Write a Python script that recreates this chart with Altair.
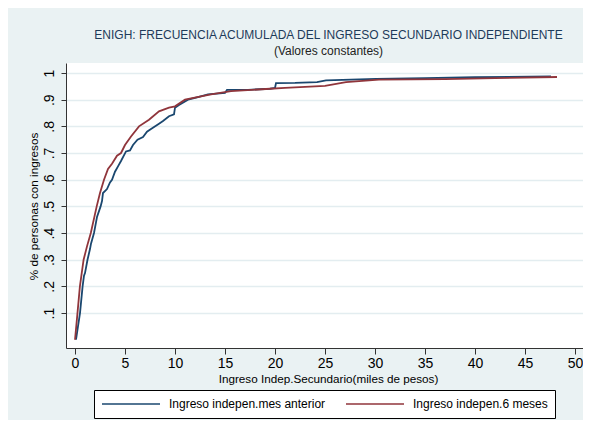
import altair as alt
import pandas as pd

serie_mes = "Ingreso indepen.mes anterior"
serie_6m = "Ingreso indepen.6 meses"

# Blue: ingreso mes anterior (miles de pesos, proporción acumulada)
x_mes = [0.1, 0.3, 0.5, 0.76, 0.9, 1.0, 1.25, 1.5, 1.6, 1.9, 2.1, 2.2, 2.56, 2.7, 2.8,
         3.2, 3.5, 3.7, 4.0, 4.3, 4.6, 5.1, 5.5, 5.8, 6.25, 6.8, 7.2, 7.6, 8.4, 8.8,
         9.4, 9.9, 10.0, 10.4, 11.3, 12.3, 13.3, 15.0, 15.2, 17.3, 19.5, 20.0, 20.1,
         22.0, 24.2, 25.1, 30.1, 35.0, 40.0, 47.6]
y_mes = [0.0, 0.05, 0.1, 0.2, 0.24, 0.25, 0.3, 0.34, 0.36, 0.4, 0.44, 0.46, 0.5, 0.52, 0.55,
         0.565, 0.59, 0.6, 0.63, 0.65, 0.67, 0.706, 0.71, 0.73, 0.75, 0.76, 0.78, 0.79, 0.81, 0.82,
         0.838, 0.845, 0.87, 0.88, 0.9, 0.91, 0.92, 0.925, 0.937, 0.937, 0.941, 0.944, 0.962,
         0.963, 0.966, 0.972, 0.978, 0.981, 0.984, 0.987]

# Red: ingreso 6 meses
x_6m = [0.0, 0.2, 0.49, 0.86, 1.2, 1.58, 2.17, 2.5, 2.9, 3.3, 3.7, 4.2, 4.6, 5.0, 5.6,
        6.4, 7.4, 8.4, 9.4, 10.0, 11.0, 13.6, 15.6, 19.5, 21.0, 25.0, 27.1, 30.4, 37.0,
        42.0, 48.2]
y_6m = [0.0, 0.08, 0.2, 0.3, 0.35, 0.4, 0.5, 0.55, 0.6, 0.64, 0.66, 0.69, 0.7, 0.73, 0.762,
        0.8, 0.825, 0.856, 0.87, 0.875, 0.9, 0.92, 0.932, 0.941, 0.944, 0.952, 0.966, 0.975, 0.977,
        0.981, 0.985]

x_ticks = [0, 5, 10, 15, 20, 25, 30, 35, 40, 45, 50]
y_ticks = [0.1, 0.2, 0.3, 0.4, 0.5, 0.6, 0.7, 0.8, 0.9, 1.0]

df = pd.concat([
    pd.DataFrame({"x": x_mes, "y": y_mes, "serie": serie_mes, "orden": range(len(x_mes))}),
    pd.DataFrame({"x": x_6m, "y": y_6m, "serie": serie_6m, "orden": range(len(x_6m))}),
])

FONT = "Liberation Sans"

chart = alt.Chart(df).mark_line(strokeWidth=1.8, clip=True).encode(
    x=alt.X("x:Q",
            scale=alt.Scale(domain=[-0.9, 50.8], nice=False, zero=False),
            axis=alt.Axis(values=x_ticks, title="Ingreso Indep.Secundario(miles de pesos)",
                          grid=False, tickSize=6, labelPadding=2, labelFontSize=14,
                          labelFont=FONT, labelColor="black", labelAngle=0,
                          titleFont=FONT, titleFontSize=11.7, titleFontWeight="normal",
                          titleColor="black", titleY=25, titleX=262, titleBaseline="top",
                          domainColor="#333", tickColor="#333", labelFlush=False)),
    y=alt.Y("y:Q",
            scale=alt.Scale(domain=[-0.031, 1.0375], nice=False, zero=False),
            axis=alt.Axis(values=y_ticks, title="% de personas con ingresos",
                          labelExpr="datum.value >= 0.999 ? '1' : replace(format(datum.value, '.1f'), '0.', '.')",
                          grid=True, gridColor="#e3edf0", gridWidth=1.3,
                          tickSize=5, labelPadding=5, labelFontSize=14, labelFont=FONT,
                          labelColor="black", labelAngle=-90, labelAlign="center",
                          labelBaseline="bottom",
                          titleFont=FONT, titleFontSize=11.7, titleFontWeight="normal",
                          titleColor="black", titleAngle=-90, titleAlign="center",
                          titleBaseline="middle", titleX=-33, titleY=143,
                          domainColor="#333", tickColor="#333", labelFlush=False)),
    color=alt.Color("serie:N",
                    scale=alt.Scale(domain=[serie_mes, serie_6m], range=["#1a476f", "#90353b"]),
                    legend=alt.Legend(orient="none", legendX=28, legendY=327,
                                      direction="horizontal", columns=2, title=None,
                                      symbolType="stroke", symbolSize=3364, clipHeight=14,
                                      symbolStrokeWidth=1.5, labelFontSize=12,
                                      labelFont=FONT, labelColor="black",
                                      strokeColor="black", fillColor="white",
                                      padding=7, columnPadding=19, labelOffset=8,
                                      labelLimit=300)),
    order="orden:Q",
).properties(
    width=517,
    height=285,
    padding={"left": 58, "top": 55, "right": 0, "bottom": 72},
    autosize=alt.AutoSizeParams(type="none"),
    title=alt.TitleParams(
        text="ENIGH: FRECUENCIA ACUMULADA DEL INGRESO SECUNDARIO INDEPENDIENTE",
        subtitle="(Valores constantes)",
        anchor="middle", font=FONT, fontSize=12, fontWeight="normal",
        color="#1e3b5a", subtitleFont=FONT, subtitleFontSize=12,
        subtitleColor="#222", subtitlePadding=4, offset=5, dx=4,
    ),
).configure(
    background="#eaf2f3",
).configure_view(
    fill="white", stroke=None,
)

chart.save("out.html", embed_options={"renderer": "svg", "actions": False})
